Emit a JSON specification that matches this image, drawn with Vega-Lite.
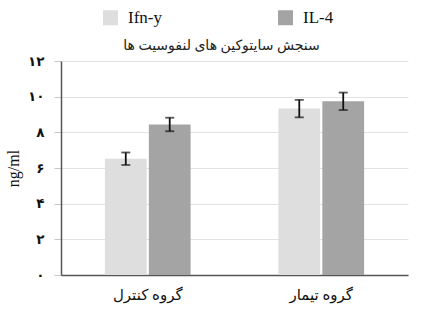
{
  "$schema": "https://vega.github.io/schema/vega-lite/v6.json",
  "autosize": {"type": "none"},
  "padding": {"left": 61, "top": 61, "right": 14, "bottom": 38},
  "width": 347,
  "height": 214,
  "background": "white",
  "title": {
    "text": "سنجش سایتوکین های لنفوسیت ها",
    "font": "Liberation Serif, DejaVu Sans",
    "fontSize": 14,
    "fontWeight": "normal",
    "color": "#222222",
    "anchor": "middle",
    "dx": -13,
    "offset": -44
  },
  "data": {
    "values": [
      {"group": "گروه کنترل", "cytokine": "Ifn-y", "value": 6.52, "lo": 6.17, "hi": 6.87},
      {"group": "گروه کنترل", "cytokine": "IL-4", "value": 8.44, "lo": 8.06, "hi": 8.82},
      {"group": "گروه تیمار", "cytokine": "Ifn-y", "value": 9.33, "lo": 8.84, "hi": 9.82},
      {"group": "گروه تیمار", "cytokine": "IL-4", "value": 9.74, "lo": 9.25, "hi": 10.23}
    ]
  },
  "encoding": {
    "x": {
      "field": "group", "type": "nominal", "sort": ["گروه کنترل", "گروه تیمار"],
      "scale": {"paddingInner": 0.506, "paddingOuter": 0.253},
      "axis": {
        "title": null, "labelAngle": 0, "ticks": false, "domain": true,
        "domainColor": "#555555", "domainWidth": 1.5,
        "labelFont": "Liberation Serif, DejaVu Sans", "labelFontSize": 15,
        "labelColor": "#111111", "labelPadding": 12
      }
    },
    "xOffset": {"field": "cytokine", "type": "nominal", "sort": ["Ifn-y", "IL-4"], "scale": {"paddingInner": 0.05}}
  },
  "layer": [
    {
      "mark": {"type": "bar"},
      "encoding": {
        "y": {
          "field": "value", "type": "quantitative",
          "scale": {"domain": [0, 12]},
          "axis": {
            "values": [0, 2, 4, 6, 8, 10, 12], "labelOverlap": false, "grid": true, "title": "ng/ml",
            "labelExpr": "datum.value==0?'۰':datum.value==2?'۲':datum.value==4?'۴':datum.value==6?'۶':datum.value==8?'۸':datum.value==10?'۱۰':'۱۲'"
          }
        },
        "color": {
          "field": "cytokine", "type": "nominal",
          "scale": {"domain": ["Ifn-y", "IL-4"], "range": ["#dedede", "#a4a4a4"]},
          "legend": {
            "title": null, "orient": "none", "direction": "horizontal",
            "legendX": 41, "legendY": -52,
            "symbolType": "square", "symbolSize": 225, "symbolStrokeWidth": 0,
            "labelFont": "Liberation Serif", "labelFontSize": 17, "labelColor": "#111111",
            "labelOffset": 9, "columnPadding": 115
          }
        }
      }
    },
    {
      "mark": {"type": "rule", "color": "#111111", "strokeWidth": 1.8},
      "encoding": {
        "y": {
          "field": "lo", "type": "quantitative",
          "axis": {
            "values": [0, 2, 4, 6, 8, 10, 12], "labelOverlap": false, "grid": true, "title": "ng/ml",
            "labelExpr": "datum.value==0?'۰':datum.value==2?'۲':datum.value==4?'۴':datum.value==6?'۶':datum.value==8?'۸':datum.value==10?'۱۰':'۱۲'"
          }
        },
        "y2": {"field": "hi"}
      }
    },
    {
      "mark": {"type": "tick", "color": "#111111", "thickness": 1.8, "size": 9},
      "encoding": {
        "y": {
          "field": "lo", "type": "quantitative",
          "axis": {
            "values": [0, 2, 4, 6, 8, 10, 12], "labelOverlap": false, "grid": true, "title": "ng/ml",
            "labelExpr": "datum.value==0?'۰':datum.value==2?'۲':datum.value==4?'۴':datum.value==6?'۶':datum.value==8?'۸':datum.value==10?'۱۰':'۱۲'"
          }
        }
      }
    },
    {
      "mark": {"type": "tick", "color": "#111111", "thickness": 1.8, "size": 9},
      "encoding": {
        "y": {
          "field": "hi", "type": "quantitative",
          "axis": {
            "values": [0, 2, 4, 6, 8, 10, 12], "labelOverlap": false, "grid": true, "title": "ng/ml",
            "labelExpr": "datum.value==0?'۰':datum.value==2?'۲':datum.value==4?'۴':datum.value==6?'۶':datum.value==8?'۸':datum.value==10?'۱۰':'۱۲'"
          }
        }
      }
    }
  ],
  "config": {
    "view": {"stroke": null},
    "axisY": {
      "titleFont": "Liberation Serif", "titleFontSize": 16, "titleFontWeight": "normal",
      "titleColor": "#111111", "titlePadding": 6,
      "labelFont": "DejaVu Sans", "labelFontSize": 13.5, "labelFontWeight": "bold",
      "labelColor": "#111111", "labelPadding": 10,
      "tickColor": "#c8c8c8", "tickSize": 7,
      "domainColor": "#555555", "domainWidth": 1.5,
      "gridColor": "#e2e2e2", "gridWidth": 1
    }
  }
}
